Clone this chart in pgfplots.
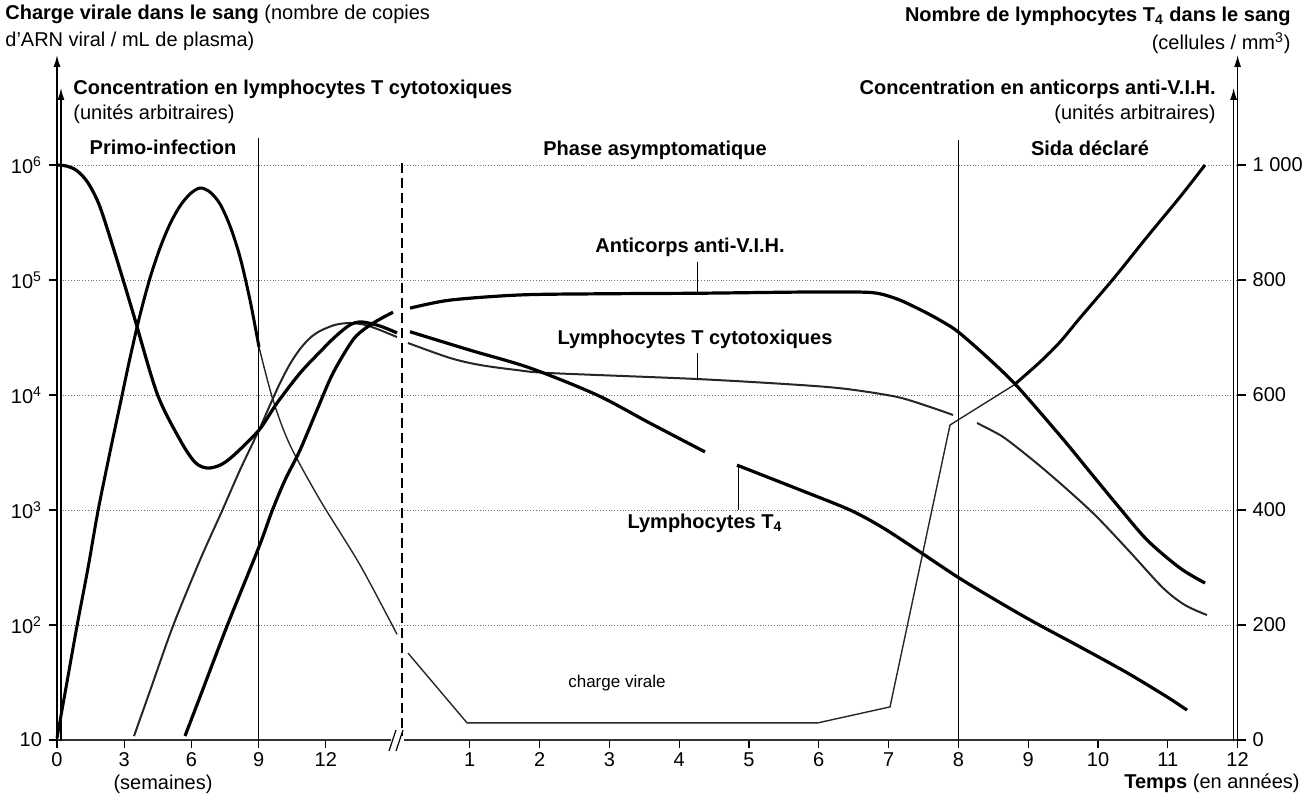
\documentclass[border=0pt]{standalone}
\usepackage{fontspec}
\setmainfont{Liberation Sans}
\usepackage{pgfplots}
\usepackage{pgfplotstable}
\pgfplotsset{compat=1.18}
\usetikzlibrary{arrows.meta}

% x values are positions on the broken time axis (weeks 0-15, then years 0-12)
% Viral load (copies/mL), left log axis
\pgfplotstableread{
x y
57 10.4
67 31.9
77 98
88 313
98 980
110 3192
120 8185
130 20980
140 49630
150 104000
160 189700
170 306900
180 439800
190 559700
200 631000
210 582000
220 458000
230 295000
240 158500
250 67000
259 26100
}\vlA
\pgfplotstableread{
x y
259 26100
273 9060
290 3673
320 1222
360 333
397 83
}\vlB
\pgfplotstableread{
x y
408 57
467 14.1
818 14.1
890 19.4
950 5483
1014 12218
}\vlC
\pgfplotstableread{
x y
1014 12218
1040 19360
1060 28900
1080 46774
1114 103992
1147 236592
1180 527229
1205 1000000
}\vlD
% Cytotoxic T lymphocytes (arbitrary units), left log axis
\pgfplotstableread{
x y
134 10.8
150 26.7
173 98
200 367
222 980
240 2228
259 4966
270 8185
280 12700
290 18600
300 25100
310 31300
320 36000
335 40700
350 42300
365 40700
380 36700
397 31900
}\ctA
\pgfplotstableread{
x y
408 28314
450 20990
480 18240
517 16480
550 15520
697 13770
800 12220
847 11270
897 9620
930 7870
953 6700
}\ctB
\pgfplotstableread{
x y
977 5710
1000 4487
1014 3670
1040 2415
1070 1435
1097 869
1130 431
1163 210
1185 149
1207 122
}\ctC
% T4 lymphocytes (cells/mm3), right axis
\pgfplotstableread{
x y
57 1000
67 998
77 990
88 969
100 927
117 835
133 743
157 603
180 522
195 483
207 473
220 478
233 494
259 539
277 586
300 638
320 675
335 701
350 722
362 727
380 720
397 708
}\tA
\pgfplotstableread{
x y
410 710
470 678
530 647
597 600
650 551
705 501
}\tB
\pgfplotstableread{
x y
737 478
800 435
850 400
883 369
920 327
958 283
997 242
1034 205
1080 162
1127 117
1167 75
1187 52
}\tC
% Anti-HIV antibodies (arbitrary units), right axis
\pgfplotstableread{
x y
185 7
200 75
227 198
259 336
272 398
285 452
300 504
317 574
333 638
353 696
367 718
380 732
393 744
}\aA
\pgfplotstableread{
x y
410 751
450 765
520 774
600 776
700 777
800 779
860 779
880 776
900 765
923 746
940 730
958 710
987 666
1014 621
1040 570
1067 515
1090 466
1117 409
1147 348
1180 299
1205 273
}\aB

\begin{document}
\fontsize{10}{12}\selectfont
\begin{tikzpicture}
\pgfplotsset{
  common/.style={
    at={(28.5pt,-370pt)}, anchor=south west, scale only axis,
    width=590.3pt, height=287.5pt,
    xmin=57, xmax=1237.6, clip=false,
    tick align=outside, major tick length=4pt,
    every tick/.style={black, line width=0.6pt},
  }
}
\begin{axis}[common, ymode=log, ymin=10, ymax=1e6,
  axis x line*=bottom, axis y line*=left,
  y axis line style={draw=none},
  x axis line style={-, line width=1.2pt, draw=black!80},
  xtick={57,124.2,191.4,258.6,325.8,469.8,539.6,609.4,679.2,749,818.8,888.6,958.4,1028.2,1098,1167.8,1237.6},
  xticklabels={0,3,6,9,12,1,2,3,4,5,6,7,8,9,10,11,12},
  xticklabel style={yshift=1.2pt},
  ytick={10,100,1000,10000,100000,1000000},
  yticklabels={10,10\textsuperscript{2},10\textsuperscript{3},10\textsuperscript{4},10\textsuperscript{5},10\textsuperscript{6}},
  ymajorgrids, grid style={densely dotted, black!55, line width=0.4pt},
  yminorticks=false,
]
\addplot[line width=1.5pt, smooth] table {\vlA};
\addplot[line width=0.7pt, black!85, smooth] table {\vlB};
\addplot[line width=0.7pt, black!85, sharp plot] table {\vlC};
\addplot[line width=1.5pt, smooth] table {\vlD};
\addplot[line width=1.0pt, black!85, smooth] table {\ctA};
\addplot[line width=1.0pt, black!85, smooth] table {\ctB};
\addplot[line width=1.0pt, black!85, smooth] table {\ctC};
\end{axis}
\begin{axis}[common, ymin=0, ymax=1000,
  hide x axis, axis y line*=right,
  y axis line style={draw=none},
  ytick={0,200,400,600,800,1000},
  yticklabels={0,200,400,600,800,1 000},
]
\addplot[line width=1.6pt, smooth] table {\tA};
\addplot[line width=1.6pt, smooth] table {\tB};
\addplot[line width=1.6pt, smooth] table {\tC};
\addplot[line width=1.6pt, smooth] table {\aA};
\addplot[line width=1.6pt, smooth] table {\aB};
\end{axis}
\begin{scope}[x=0.5pt, y=-0.5pt]
  % axis arrows
  \draw[line width=0.7pt, -{Latex[length=6pt,width=3.5pt]}] (57,741) -- (57,55);
  \draw[line width=0.7pt, -{Latex[length=6pt,width=3.5pt]}] (61,741) -- (61,88);
  \draw[line width=0.7pt, -{Latex[length=6pt,width=3.5pt]}] (1237.6,741) -- (1237.6,55);
  \draw[line width=0.7pt, -{Latex[length=6pt,width=3.5pt]}] (1233.6,741) -- (1233.6,88);
  % phase separators
  \draw[line width=0.7pt] (258.6,138) -- (258.6,740);
  \draw[line width=0.7pt] (958.4,140) -- (958.4,740);
  \draw[line width=0.7pt, dash pattern=on 5pt off 2.5pt] (402,163) -- (402,740);
  % axis break
  \fill[white] (391,736) rectangle (404,745);
  \draw[line width=0.6pt] (389,751) -- (396,730);
  \draw[line width=0.6pt] (396,751) -- (403,730);
  % pointers
  \draw[line width=0.5pt] (697,262) -- (697,294);
  \draw[line width=0.5pt] (697,353) -- (697,380);
  \draw[line width=0.5pt] (738,466) -- (738,510);
  % titles
  \node[anchor=base west, inner sep=0pt] at (5,20) {\textbf{Charge virale dans le sang} (nombre de copies};
  \node[anchor=base west, inner sep=0pt] at (5,47) {d'ARN viral / mL de plasma)};
  \node[anchor=base west, inner sep=0pt] at (73,95) {\textbf{Concentration en lymphocytes T cytotoxiques}};
  \node[anchor=base west, inner sep=0pt] at (73,120) {(unités arbitraires)};
  \node[anchor=base east, inner sep=0pt] at (1291,22) {\textbf{Nombre de lymphocytes T\textsubscript{4} dans le sang}};
  \node[anchor=base east, inner sep=0pt] at (1291,50) {(cellules / mm\textsuperscript{3})};
  \node[anchor=base east, inner sep=0pt] at (1216,95) {\textbf{Concentration en anticorps anti-V.I.H.}};
  \node[anchor=base east, inner sep=0pt] at (1216,120) {(unités arbitraires)};
  \node[anchor=base, inner sep=0pt] at (163,155) {\textbf{Primo-infection}};
  \node[anchor=base, inner sep=0pt] at (655,156) {\textbf{Phase asymptomatique}};
  \node[anchor=base, inner sep=0pt] at (1090,156) {\textbf{Sida déclaré}};
  \node[anchor=base, inner sep=0pt] at (690,253) {\textbf{Anticorps anti-V.I.H.}};
  \node[anchor=base, inner sep=0pt] at (695,345) {\textbf{Lymphocytes T cytotoxiques}};
  \node[anchor=base, inner sep=0pt] at (705,528) {\textbf{Lymphocytes T\textsubscript{4}}};
  \node[anchor=base, inner sep=0pt] at (617,687) {\fontsize{8.5}{10}\selectfont charge virale};
  \node[anchor=base, inner sep=0pt] at (163,789) {(semaines)};
  \node[anchor=base east, inner sep=0pt] at (1300,788) {\textbf{Temps} (en années)};
  \pgfresetboundingbox
  \useasboundingbox (0,0) rectangle (1306,796);
\end{scope}
\end{tikzpicture}
\end{document}
